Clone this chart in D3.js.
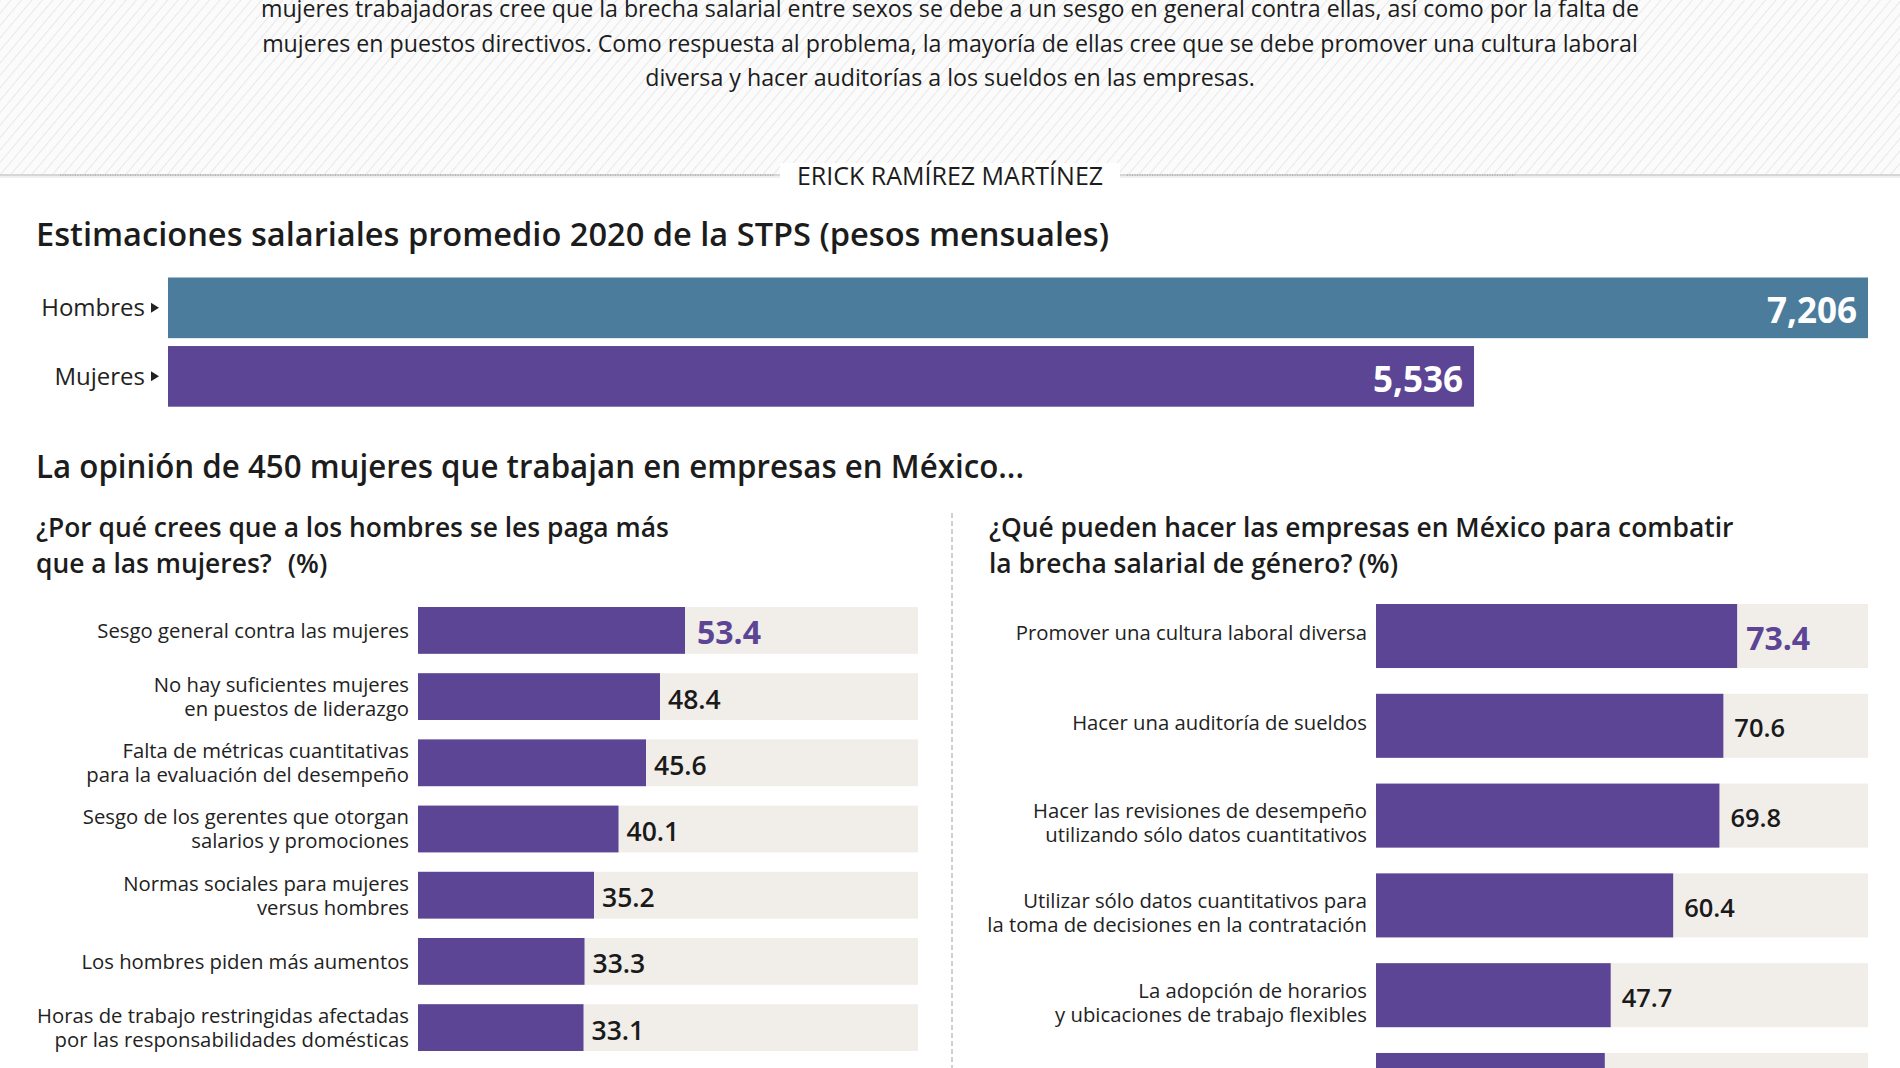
<!DOCTYPE html>
<html><head><meta charset="utf-8">
<script src="https://cdn.jsdelivr.net/npm/d3@7"></script>
<style>
html,body{margin:0;padding:0;background:#fff;}
svg{display:block;font-family:"Open Sans","Noto Sans",sans-serif;}
</style>
</head><body>
<svg id="chart" width="1900" height="1068"></svg>
<script>
// ---------------- DATA ----------------
const introLines = [
  "mujeres trabajadoras cree que la brecha salarial entre sexos se debe a un sesgo en general contra ellas, así como por la falta de",
  "mujeres en puestos directivos. Como respuesta al problema, la mayoría de ellas cree que se debe promover una cultura laboral",
  "diversa y hacer auditorías a los sueldos en las empresas."
];
const byline = "ERICK RAMÍREZ MARTÍNEZ";
const salaryTitle = "Estimaciones salariales promedio 2020 de la STPS (pesos mensuales)";
const salaryCategories = ["Hombres", "Mujeres"];
const salaryValues = [7206, 5536];
const opinionTitle = "La opinión de 450 mujeres que trabajan en empresas en México...";
const whyTitle = ["¿Por qué crees que a los hombres se les paga más", "que a las mujeres?", "(%)"];
const whyCategories = [
  "Sesgo general contra las mujeres",
  "No hay suficientes mujeres\nen puestos de liderazgo",
  "Falta de métricas cuantitativas\npara la evaluación del desempeño",
  "Sesgo de los gerentes que otorgan\nsalarios y promociones",
  "Normas sociales para mujeres\nversus hombres",
  "Los hombres piden más aumentos",
  "Horas de trabajo restringidas afectadas\npor las responsabilidades domésticas"
];
const whyValues = [53.4, 48.4, 45.6, 40.1, 35.2, 33.3, 33.1];
const actionTitle = ["¿Qué pueden hacer las empresas en México para combatir", "la brecha salarial de género?", "(%)"];
const actionCategories = [
  "Promover una cultura laboral diversa",
  "Hacer una auditoría de sueldos",
  "Hacer las revisiones de desempeño\nutilizando sólo datos cuantitativos",
  "Utilizar sólo datos cuantitativos para\nla toma de decisiones en la contratación",
  "La adopción de horarios\ny ubicaciones de trabajo flexibles",
  "No hacer el caso a sesgos\nde género en las empresas"
];
const actionValues = [73.4, 70.6, 69.8, 60.4, 47.7, 46.5];

// ---------------- STYLE ----------------
const C = {
  text: "#1c1c1c", blue: "#4b7c9c", purple: "#5c4595", track: "#f1ede9"
};
const fmt = d3.format(",");

const svg = d3.select("#chart");

// header hatch
const defs = svg.append("defs");
const pat = defs.append("pattern").attr("id", "hatch").attr("patternUnits", "userSpaceOnUse")
  .attr("width", 8).attr("height", 8).attr("patternTransform", "rotate(40)");
pat.append("rect").attr("width", 8).attr("height", 8).attr("fill", "#fbfbfb");
pat.append("line").attr("x1", 0).attr("y1", 0).attr("x2", 0).attr("y2", 8)
  .attr("stroke", "#e4e4e4").attr("stroke-width", 1.6);
svg.append("rect").attr("x", 0).attr("y", 0).attr("width", 1900).attr("height", 175).attr("fill", "url(#hatch)");

// intro text
svg.append("g").selectAll("text").data(introLines).join("text")
  .attr("x", 950).attr("y", (d, i) => 17 + i * 34.5)
  .attr("text-anchor", "middle").attr("font-size", 23.2).attr("fill", C.text)
  .text(d => d);

// separator
svg.append("rect").attr("x", 0).attr("y", 174).attr("width", 1900).attr("height", 2).attr("fill", "#d6d6d6");
svg.append("rect").attr("x", 0).attr("y", 176).attr("width", 1900).attr("height", 2).attr("fill", "#f0f0f0");
[[60, 775], [1127, 1515]].forEach(([a, b]) => {
  svg.append("line").attr("x1", a).attr("x2", b).attr("y1", 175).attr("y2", 175)
    .attr("stroke", "#9a9a9a").attr("stroke-width", 1).attr("stroke-dasharray", "1,1.5");
});
svg.append("rect").attr("x", 780).attr("y", 163).attr("width", 340).attr("height", 28).attr("fill", "#fff");
svg.append("text").attr("x", 950).attr("y", 185).attr("text-anchor", "middle")
  .attr("font-size", 25).attr("fill", C.text).text(byline);

// ---------- salary chart ----------
svg.append("text").attr("x", 36).attr("y", 246).attr("font-size", 32).attr("font-weight", 600)
  .attr("textLength", 1073).attr("lengthAdjust", "spacingAndGlyphs")
  .attr("fill", C.text).text(salaryTitle);

const xs = d3.scaleLinear().domain([0, d3.max(salaryValues)]).range([168, 1868]);
const ys = d3.scaleBand().domain(salaryCategories).range([277.5, 406.7]).paddingInner(0.115).paddingOuter(0);
const salColors = [C.blue, C.purple];
const gs = svg.append("g");
gs.selectAll("rect").data(salaryValues).join("rect")
  .attr("x", xs(0)).attr("y", (d, i) => ys(salaryCategories[i]))
  .attr("width", d => xs(d) - xs(0)).attr("height", ys.bandwidth())
  .attr("fill", (d, i) => salColors[i]);
gs.selectAll("text.v").data(salaryValues).join("text").attr("class", "v")
  .attr("x", d => xs(d) - 11).attr("y", (d, i) => ys(salaryCategories[i]) + ys.bandwidth() / 2 + 3)
  .attr("dy", "0.36em").attr("text-anchor", "end").attr("font-size", 35).attr("font-weight", 700)
  .attr("fill", "#fff").text(d => fmt(d));
gs.selectAll("text.c").data(salaryCategories).join("text").attr("class", "c")
  .attr("x", 145).attr("y", d => ys(d) + ys.bandwidth() / 2).attr("dy", "0.36em")
  .attr("text-anchor", "end").attr("font-size", 24).attr("fill", "#222").text(d => d);
gs.selectAll("path.t").data(salaryCategories).join("path").attr("class", "t")
  .attr("d", d => { const cy = ys(d) + ys.bandwidth() / 2; return `M151,${cy - 5}L159,${cy}L151,${cy + 5}Z`; })
  .attr("fill", "#222");

// ---------- opinion ----------
svg.append("text").attr("x", 36).attr("y", 478).attr("font-size", 32).attr("font-weight", 600)
  .attr("textLength", 988).attr("lengthAdjust", "spacingAndGlyphs")
  .attr("fill", C.text).text(opinionTitle);

function subtitle(lines, x, gap) {
  const t = svg.append("text").attr("x", x).attr("y", 537).attr("font-size", 26.4).attr("font-weight", 600).attr("fill", C.text);
  t.append("tspan").attr("x", x).attr("y", 537).text(lines[0]);
  t.append("tspan").attr("x", x).attr("y", 573).text(lines[1]);
  t.append("tspan").attr("dx", gap).text(lines[2]);
}
subtitle(whyTitle, 36, 16);
subtitle(actionTitle, 989, 6);

// divider
svg.append("line").attr("x1", 952).attr("x2", 952).attr("y1", 513).attr("y2", 1068)
  .attr("stroke", "#a0a0a0").attr("stroke-width", 1).attr("stroke-dasharray", "5,3");

function barPanel(cats, vals, opt) {
  const x = d3.scaleLinear().domain([0, 100]).range(opt.xr);
  const y = d3.scaleBand().domain(cats).range(opt.yr).paddingInner(opt.pad).paddingOuter(0);
  const g = svg.append("g");
  const rows = g.selectAll("g").data(cats).join("g");
  rows.append("rect").attr("x", x(0)).attr("y", d => y(d)).attr("width", x(100) - x(0))
    .attr("height", y.bandwidth()).attr("fill", C.track);
  rows.append("rect").attr("x", x(0)).attr("y", d => y(d)).attr("width", (d, i) => x(vals[i]) - x(0))
    .attr("height", y.bandwidth()).attr("fill", C.purple);
  rows.append("text")
    .attr("x", (d, i) => x(vals[i]) + (i === 0 ? opt.gap0 : opt.gap))
    .attr("y", d => y(d) + y.bandwidth() / 2 + opt.vOff).attr("dy", "0.36em")
    .attr("font-size", (d, i) => i === 0 ? opt.fs0 : opt.fs)
    .attr("font-weight", (d, i) => i === 0 ? 700 : 600)
    .attr("fill", (d, i) => i === 0 ? C.purple : "#1a1a1a")
    .text((d, i) => vals[i].toFixed(1));
  rows.each(function (d) {
    const lines = d.split("\n");
    const cy = y(d) + y.bandwidth() / 2 + (lines.length > 1 ? opt.mOff : opt.sOff);
    const t = d3.select(this).append("text").attr("text-anchor", "end")
      .attr("font-size", opt.lfs).attr("fill", "#222");
    const y0 = cy - (lines.length - 1) * opt.lh / 2;
    lines.forEach((l, i) => t.append("tspan").attr("x", opt.lx).attr("y", y0 + i * opt.lh).attr("dy", "0.36em").text(l));
  });
}
barPanel(whyCategories, whyValues, {
  xr: [418, 918], yr: [607, 1051], pad: 0.293, gap0: 12, gap: 8, fs0: 32, fs: 26.5, lfs: 20.3, lh: 24, lx: 409,
  vOff: 2.5, mOff: 0, sOff: 0
});
barPanel(actionCategories, actionValues, {
  xr: [1376, 1868], yr: [604, 1117], pad: 0.287, gap0: 9, gap: 11, fs0: 32, fs: 25.5, lfs: 20.3, lh: 24, lx: 1367,
  vOff: 2.5, mOff: 7, sOff: -3
});
</script>
</body></html>
